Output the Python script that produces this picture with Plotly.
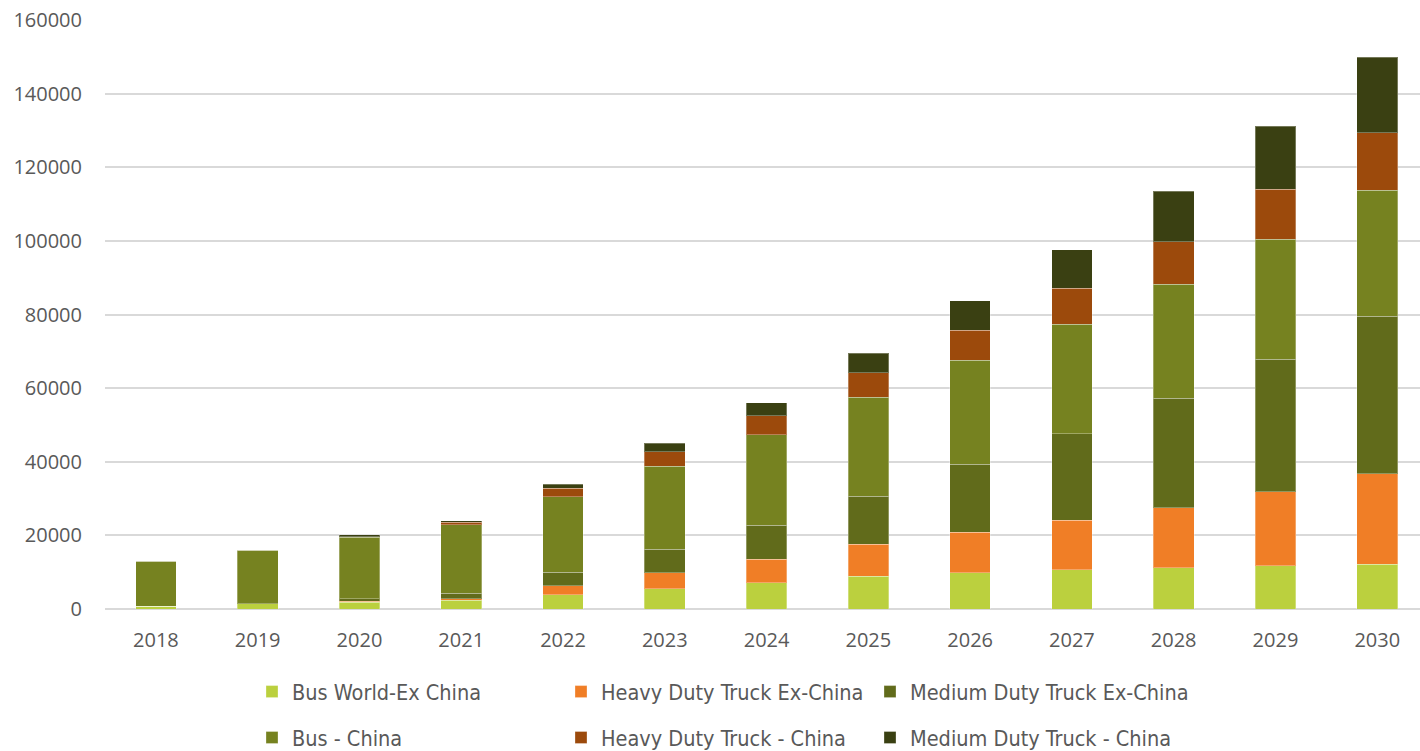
import plotly.graph_objects as go

years = ["2018", "2019", "2020", "2021", "2022", "2023", "2024",
         "2025", "2026", "2027", "2028", "2029", "2030"]

bus_world_ex_china = [700, 1360, 1800, 2350, 3890, 5520, 7140,
                      8960, 9870, 10680, 11260, 11760, 12160]
heavy_truck_ex_china = [0, 0, 270, 450, 2440, 4340, 6430,
                        8600, 11040, 13390, 16280, 20100, 24520]
medium_truck_ex_china = [0, 0, 730, 1540, 3710, 6430, 9230,
                         13120, 18370, 23530, 29650, 35980, 42910]
bus_china = [12250, 14640, 16650, 18560, 20450, 22540, 24520,
             26880, 28330, 29690, 31050, 32560, 34170]
heavy_truck_china = [0, 0, 150, 720, 2350, 3890, 5160,
                     6610, 8150, 9870, 11460, 13570, 15680]
medium_truck_china = [0, 0, 540, 360, 1090, 2350, 3530,
                      5340, 7970, 10400, 13770, 17190, 20400]

y_ticks = [0, 20000, 40000, 60000, 80000, 100000, 120000, 140000, 160000]

series = [
    ("Bus World-Ex China", bus_world_ex_china, "#BBD03E"),
    ("Heavy Duty Truck Ex-China", heavy_truck_ex_china, "#F07E26"),
    ("Medium Duty Truck Ex-China", medium_truck_ex_china, "#616B1B"),
    ("Bus - China", bus_china, "#768220"),
    ("Heavy Duty Truck - China", heavy_truck_china, "#9C4A0C"),
    ("Medium Duty Truck - China", medium_truck_china, "#3A4012"),
]

W, H = 1420, 751
M_L, M_R, M_T, M_B = 105, 0, 19.5, 141.7
PLOT_W = W - M_L - M_R
PLOT_H = H - M_T - M_B

# legend grid: three columns, two rows (pixel positions on the page)
col_px = [271, 580, 889]
row_px = [692, 738]

fig = go.Figure()
legends = {}
for i, (name, values, color) in enumerate(series):
    key = "legend" if i == 0 else f"legend{i + 1}"
    fig.add_trace(go.Bar(
        x=years, y=values, name=name, legend=key, showlegend=True,
        marker=dict(color=color, line=dict(color="rgba(255,255,255,0.3)", width=1)),
    ))
    row, col = divmod(i, 3)
    legends[key] = dict(
        orientation="h", xanchor="left", yanchor="middle",
        x=(col_px[col] - 19 - M_L) / PLOT_W,
        y=-(row_px[row] - (H - M_B)) / PLOT_H,
        font=dict(family="DejaVu Sans Condensed, Liberation Sans Narrow, Roboto",
                  size=21.5, color="#595959"),
        itemwidth=30, bgcolor="rgba(0,0,0,0)", visible=True,
    )

fig.update_layout(
    width=W, height=H, showlegend=True,
    margin=dict(l=M_L, r=M_R, t=M_T, b=M_B, autoexpand=False),
    paper_bgcolor="white", plot_bgcolor="white",
    barmode="stack", bargap=0.6,
    font=dict(family="Open Sans", size=20, color="#595959"),
    xaxis=dict(range=[-0.5, 12.42], showgrid=False, showline=False,
               ticks="", tickfont=dict(size=20, color="#595959"),
               ticklabelstandoff=17),
    yaxis=dict(range=[0, 160000], tickvals=y_ticks,
               ticktext=[str(v) for v in y_ticks],
               showgrid=True, gridcolor="#D9D9D9", gridwidth=1.5,
               zeroline=True, zerolinecolor="#D9D9D9", zerolinewidth=2,
               ticks="", tickfont=dict(size=20, color="#595959"),
               ticklabelstandoff=22),
    **legends,
)

fig.write_html("out.html")
